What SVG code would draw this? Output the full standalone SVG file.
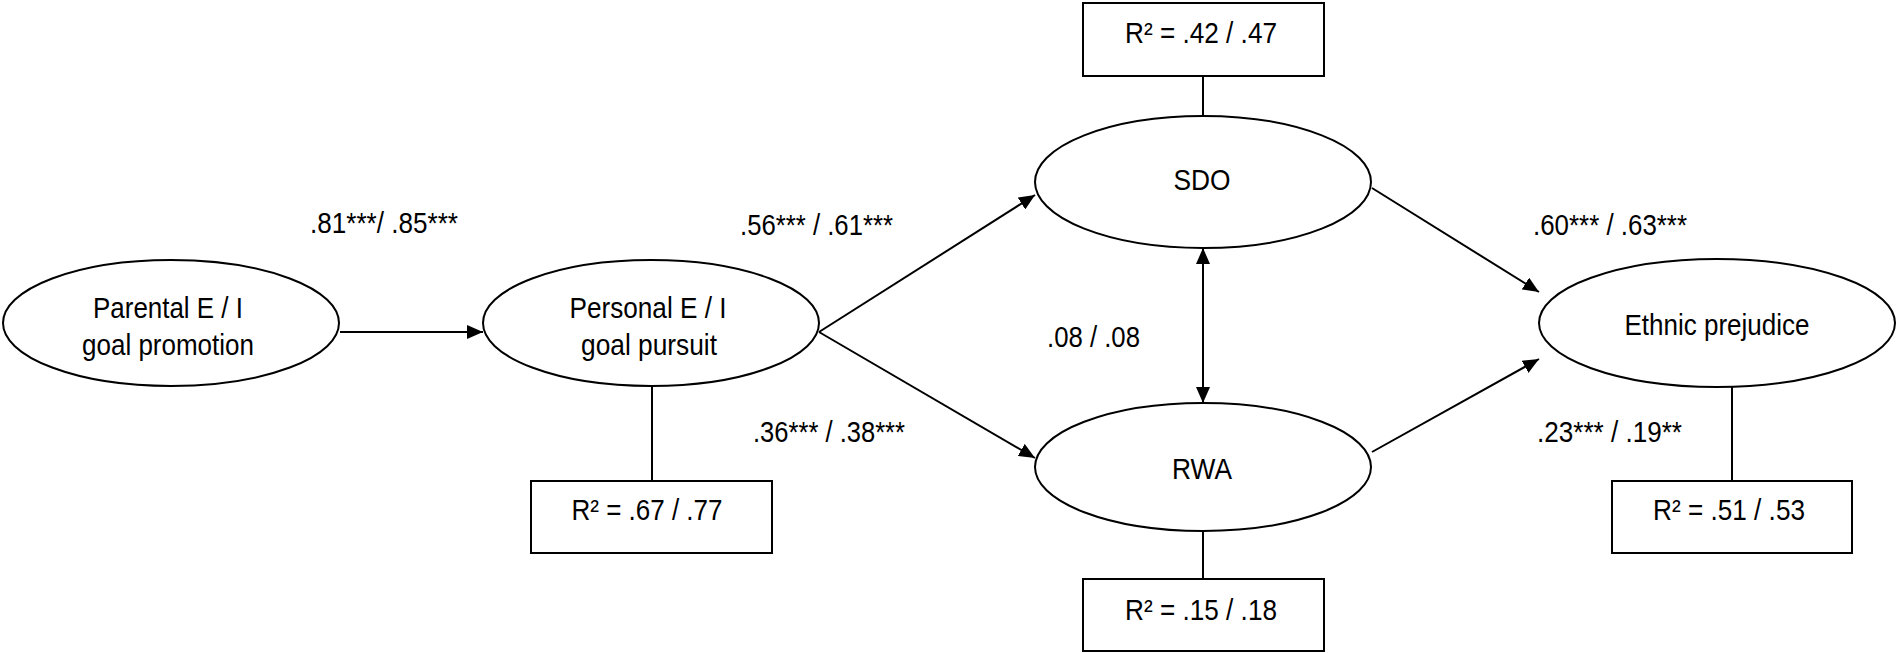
<svg xmlns="http://www.w3.org/2000/svg" width="1897" height="653" viewBox="0 0 1897 653">
<style>
.n{fill:#fff;stroke:#000;stroke-width:2}
.t{font-family:"Liberation Sans",Arial,sans-serif;font-size:29px;fill:#000;text-anchor:middle}
.l{font-family:"Liberation Sans",Arial,sans-serif;font-size:29px;fill:#000}
.c{stroke:#000;stroke-width:2;fill:none}
</style>
<defs>
<marker id="ah" markerUnits="userSpaceOnUse" markerWidth="16" markerHeight="14" refX="16" refY="7" orient="auto-start-reverse" viewBox="0 0 16 14">
<path d="M0,0 L16,7 L0,14 z" fill="#000"/>
</marker>
</defs>
<rect width="1897" height="653" fill="#fff"/>
<g id="connectors">
<line class="c" x1="340" y1="332" x2="483" y2="332" marker-end="url(#ah)"/>
<line class="c" x1="819" y1="332" x2="1035" y2="195" marker-end="url(#ah)"/>
<line class="c" x1="819" y1="332" x2="1035" y2="458" marker-end="url(#ah)"/>
<line class="c" x1="1372" y1="188" x2="1539" y2="292" marker-end="url(#ah)"/>
<line class="c" x1="1372" y1="452" x2="1539" y2="359" marker-end="url(#ah)"/>
<line class="c" x1="1203" y1="248" x2="1203" y2="403" marker-start="url(#ah)" marker-end="url(#ah)"/>
<line class="c" x1="652" y1="387" x2="652" y2="481"/>
<line class="c" x1="1203" y1="76" x2="1203" y2="116"/>
<line class="c" x1="1203" y1="532" x2="1203" y2="579"/>
<line class="c" x1="1732" y1="387" x2="1732" y2="481"/>
</g>
<g id="labels">
<text class="l" x="310" y="233" textLength="148" lengthAdjust="spacingAndGlyphs">.81***/ .85***</text>
<text class="l" x="740" y="235" textLength="153" lengthAdjust="spacingAndGlyphs">.56*** / .61***</text>
<text class="l" x="753" y="442" textLength="152" lengthAdjust="spacingAndGlyphs">.36*** / .38***</text>
<text class="l" x="1047" y="347" textLength="93" lengthAdjust="spacingAndGlyphs">.08 / .08</text>
<text class="l" x="1533" y="235" textLength="154" lengthAdjust="spacingAndGlyphs">.60*** / .63***</text>
<text class="l" x="1537" y="442" textLength="145" lengthAdjust="spacingAndGlyphs">.23*** / .19**</text>
</g>
<g id="parental">
<ellipse class="n" cx="171" cy="323" rx="168" ry="63"/>
<text class="t" x="168" y="318" textLength="150" lengthAdjust="spacingAndGlyphs">Parental E / I</text>
<text class="t" x="168" y="355" textLength="172" lengthAdjust="spacingAndGlyphs">goal promotion</text>
</g>
<g id="personal">
<ellipse class="n" cx="651" cy="323" rx="168" ry="63"/>
<text class="t" x="648" y="318" textLength="157" lengthAdjust="spacingAndGlyphs">Personal E / I</text>
<text class="t" x="649" y="355" textLength="136" lengthAdjust="spacingAndGlyphs">goal pursuit</text>
</g>
<g id="sdo">
<ellipse class="n" cx="1203" cy="182" rx="168" ry="66"/>
<text class="t" x="1202" y="190" textLength="57" lengthAdjust="spacingAndGlyphs">SDO</text>
</g>
<g id="rwa">
<ellipse class="n" cx="1203" cy="467" rx="168" ry="64"/>
<text class="t" x="1202" y="479" textLength="60" lengthAdjust="spacingAndGlyphs">RWA</text>
</g>
<g id="ethnic">
<ellipse class="n" cx="1717" cy="323" rx="178" ry="64"/>
<text class="t" x="1717" y="335" textLength="185" lengthAdjust="spacingAndGlyphs">Ethnic prejudice</text>
</g>
<g id="r2-personal">
<rect class="n" x="531" y="481" width="241" height="72"/>
<text class="t" x="647" y="520" textLength="151" lengthAdjust="spacingAndGlyphs">R² = .67 / .77</text>
</g>
<g id="r2-sdo">
<rect class="n" x="1083" y="3" width="241" height="73"/>
<text class="t" x="1201" y="43" textLength="152" lengthAdjust="spacingAndGlyphs">R² = .42 / .47</text>
</g>
<g id="r2-rwa">
<rect class="n" x="1083" y="579" width="241" height="72"/>
<text class="t" x="1201" y="620" textLength="152" lengthAdjust="spacingAndGlyphs">R² = .15 / .18</text>
</g>
<g id="r2-ethnic">
<rect class="n" x="1612" y="481" width="240" height="72"/>
<text class="t" x="1729" y="520" textLength="152" lengthAdjust="spacingAndGlyphs">R² = .51 / .53</text>
</g>
</svg>
